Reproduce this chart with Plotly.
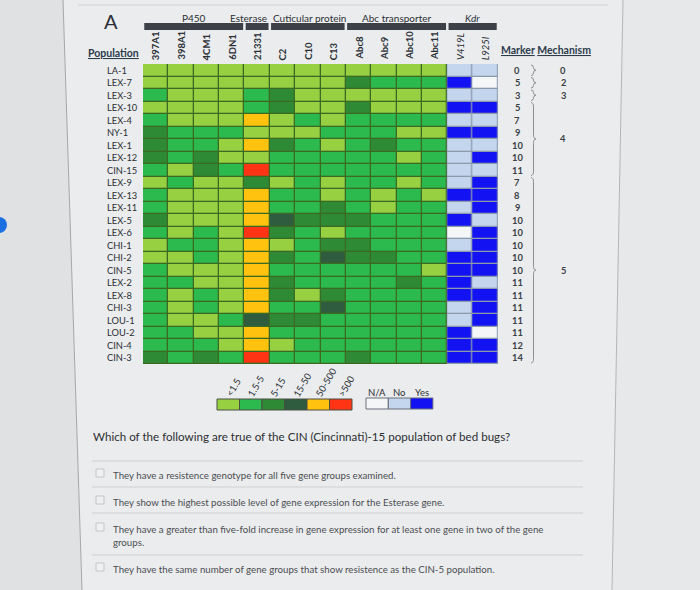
import plotly.graph_objects as go

W, H = 700, 590
def X(p): return p / W
def Y(p): return 1 - p / H

# ---------------- data ----------------
populations = ["LA-1", "LEX-7", "LEX-3", "LEX-10", "LEX-4", "NY-1", "LEX-1", "LEX-12",
               "CIN-15", "LEX-9", "LEX-13", "LEX-11", "LEX-5", "LEX-6", "CHI-1", "CHI-2",
               "CIN-5", "LEX-2", "LEX-8", "CHI-3", "LOU-1", "LOU-2", "CIN-4", "CIN-3"]
genes = ["397A1", "398A1", "4CM1", "6DN1", "21331", "C2", "C10", "C13",
         "Abc8", "Abc9", "Abc10", "Abc11"]
kdr_genes = ["V419L", "L925I"]
group_names = ["P450", "Esterase", "Cuticular protein", "Abc transporter", "Kdr"]
group_first = [0, 4, 5, 8, 12]
group_last = [3, 4, 7, 11, 13]

# fold-change class: 1 <1.5, 2 1.5-5, 3 5-15, 4 15-50, 5 50-500, 6 >500
expression = [
    [1, 1, 1, 1, 1, 1, 1, 1, 1, 1, 1, 1],
    [1, 1, 1, 1, 1, 1, 1, 1, 3, 2, 2, 2],
    [2, 1, 1, 1, 2, 3, 1, 1, 1, 1, 1, 1],
    [1, 1, 1, 1, 2, 3, 1, 1, 3, 1, 1, 1],
    [2, 1, 1, 1, 5, 1, 2, 1, 2, 2, 2, 2],
    [3, 2, 2, 2, 1, 1, 1, 2, 2, 2, 1, 1],
    [3, 2, 2, 1, 5, 3, 2, 1, 2, 3, 2, 2],
    [3, 2, 3, 1, 1, 2, 2, 2, 2, 2, 1, 2],
    [2, 1, 3, 2, 6, 2, 2, 2, 2, 2, 2, 2],
    [1, 2, 1, 1, 3, 1, 2, 1, 2, 2, 1, 2],
    [2, 1, 1, 1, 5, 2, 2, 1, 2, 1, 2, 1],
    [2, 1, 1, 1, 5, 2, 2, 3, 2, 1, 2, 2],
    [3, 1, 1, 1, 5, 4, 3, 3, 3, 2, 2, 2],
    [2, 1, 2, 1, 6, 3, 2, 1, 2, 2, 2, 2],
    [1, 2, 2, 1, 5, 1, 2, 3, 3, 2, 2, 2],
    [1, 1, 2, 1, 5, 3, 2, 4, 3, 3, 2, 2],
    [2, 1, 1, 1, 5, 2, 2, 2, 2, 2, 2, 1],
    [2, 2, 1, 1, 5, 3, 2, 2, 2, 2, 3, 2],
    [2, 1, 2, 1, 5, 3, 1, 3, 2, 2, 2, 2],
    [2, 1, 2, 1, 5, 2, 2, 4, 2, 2, 2, 2],
    [2, 1, 1, 2, 4, 3, 3, 2, 2, 2, 2, 2],
    [2, 2, 1, 1, 5, 2, 2, 2, 2, 2, 2, 2],
    [2, 2, 2, 1, 5, 1, 2, 2, 2, 2, 2, 2],
    [3, 2, 3, 2, 6, 2, 2, 2, 3, 2, 2, 2],
]
# kdr mutation: 0 N/A, 1 No, 2 Yes
kdr = [
    [1, 1], [2, 0], [1, 1], [2, 2], [1, 1], [2, 2], [1, 1], [1, 2],
    [1, 1], [1, 2], [2, 2], [1, 2], [2, 1], [0, 2], [1, 2], [2, 2],
    [2, 2], [2, 1], [2, 2], [1, 2], [1, 2], [2, 0], [2, 2], [2, 2],
]
markers = [0, 5, 3, 5, 7, 9, 10, 10, 11, 7, 8, 9, 10, 10, 10, 10, 10, 11, 11, 11, 11, 11, 12, 14]
mechanisms = ["0", "2", "3", "4", "5"]
mechanism_first = [0, 1, 2, 3, 9]
mechanism_last = [0, 1, 2, 8, 23]

fold_bins = ["<1.5", "1.5-5", "5-15", "15-50", "50-500", ">500"]
kdr_states = ["N/A", "No", "Yes"]

question = "Which of the following are true of the CIN (Cincinnati)-15 population of bed bugs?"
options = [
    "They have a resistence genotype for all five gene groups examined.",
    "They show the highest possible level of gene expression for the Esterase gene.",
    "They have a greater than five-fold increase in gene expression for at least one gene in two of the gene<br>groups.",
    "They have the same number of gene groups that show resistence as the CIN-5 population.",
]

# ---------------- style ----------------
expr_colors = ["#97d142", "#2cb94d", "#2e8a35", "#2f5c3f", "#ffc20e", "#ff3414"]
kdr_colors = ["#f4f6f8", "#c3d6ee", "#1212f2"]
FONT = "Lato"
TXT = "#2b2f35"

def discrete_scale(cols):
    n = len(cols)
    sc = []
    for i, c in enumerate(cols):
        sc.append([i / n, c])
        sc.append([(i + 1) / n, c])
    return sc

GL, GR, GT, GB = 143, 498, 64, 364

fig = go.Figure()
fig.add_trace(go.Heatmap(
    z=expression, x=list(range(len(genes))), y=list(range(len(populations))),
    colorscale=discrete_scale(expr_colors), zmin=0.5, zmax=6.5, showscale=False,
    xgap=1.3, ygap=1.3, hoverinfo="skip"))
fig.add_trace(go.Heatmap(
    z=kdr, x=[len(genes) + i for i in range(len(kdr_genes))], y=list(range(len(populations))),
    colorscale=discrete_scale(kdr_colors), zmin=-0.5, zmax=2.5, showscale=False,
    xgap=1.3, ygap=1.3, hoverinfo="skip"))

ncol = len(genes) + len(kdr_genes)
nrow = len(populations)

shapes = []
annotations = []

# background regions (photo framing)
shapes.append(dict(type="path", xref="paper", yref="paper", layer="below",
                   path=f"M {X(-5)},{Y(-5)} L {X(63)},{Y(-5)} L {X(82)},{Y(595)} L {X(-5)},{Y(595)} Z",
                   fillcolor="#dfe1e2", line=dict(width=0)))
shapes.append(dict(type="path", xref="paper", yref="paper", layer="below",
                   path=f"M {X(623)},{Y(-5)} L {X(705)},{Y(-5)} L {X(705)},{Y(595)} L {X(612)},{Y(595)} Z",
                   fillcolor="#e6e8e9", line=dict(width=0)))
shapes.append(dict(type="line", xref="paper", yref="paper", x0=X(63), y0=Y(0), x1=X(82), y1=Y(590),
                   line=dict(color="#a5a8ab", width=1)))
shapes.append(dict(type="line", xref="paper", yref="paper", x0=X(623), y0=Y(0), x1=X(612), y1=Y(590),
                   line=dict(color="#b3b6b8", width=1)))
shapes.append(dict(type="line", xref="paper", yref="paper", x0=X(78), y0=Y(5), x1=X(608), y1=Y(5),
                   line=dict(color="#d0d2d4", width=1)))
shapes.append(dict(type="circle", xref="paper", yref="paper", x0=X(-9), x1=X(7), y0=Y(217), y1=Y(233),
                   fillcolor="#1c6fe3", line=dict(width=0)))

# grid line backing
shapes.append(dict(type="rect", xref="x", yref="y", layer="below",
                   x0=-0.5, x1=len(genes) - 0.5, y0=-0.5, y1=nrow - 0.5,
                   fillcolor="#3b6a22", line=dict(color="#3b6a22", width=1)))
shapes.append(dict(type="rect", xref="x", yref="y", layer="below",
                   x0=len(genes) - 0.5, x1=ncol - 0.5, y0=-0.5, y1=nrow - 0.5,
                   fillcolor="#8d9aac", line=dict(color="#8d9aac", width=1)))

# group header bars and names
for name, a, b in zip(group_names, group_first, group_last):
    shapes.append(dict(type="rect", xref="x", yref="paper", x0=a - 0.5 + 0.05, x1=b + 0.5 - 0.05,
                       y0=Y(30), y1=Y(23), fillcolor="#3d4147", line=dict(width=0)))
    if name == "Esterase":
        xa, xx = "right", b + 0.45
    elif name == "Cuticular protein":
        xa, xx = "left", a - 0.45
    else:
        xa, xx = "center", (a + b) / 2
    annotations.append(dict(xref="x", yref="paper", x=xx, y=Y(18), yanchor="middle", xanchor=xa,
                            text=(f"<i>{name}</i>" if name == "Kdr" else name), showarrow=False,
                            font=dict(family=FONT, size=10, color=TXT)))

# column labels
for i, g in enumerate(genes + kdr_genes):
    t = f"<i>{g}</i>" if g in kdr_genes else f"<b>{g}</b>"
    annotations.append(dict(xref="x", yref="paper", x=i, y=Y(62), yanchor="bottom", xanchor="center",
                            text=t, textangle=-90, showarrow=False,
                            font=dict(family=FONT, size=9.5, color=TXT)))

# title letter and headers
annotations.append(dict(xref="paper", yref="paper", x=X(102), y=Y(21), xanchor="left", yanchor="middle",
                        text="A", showarrow=False, font=dict(family=FONT, size=20, color=TXT)))
annotations.append(dict(xref="paper", yref="paper", x=X(86), y=Y(53), xanchor="left", yanchor="middle",
                        text="<b><u>Population</u></b>", showarrow=False,
                        font=dict(family=FONT, size=10.5, color="#2c3a4c")))
annotations.append(dict(xref="paper", yref="paper", x=X(499), y=Y(50), xanchor="left", yanchor="middle",
                        text="<b><u>Marker</u> <u>Mechanism</u></b>", showarrow=False,
                        font=dict(family=FONT, size=10.5, color="#2c3a4c")))

# row labels and marker values
for r, p in enumerate(populations):
    annotations.append(dict(xref="paper", yref="y", x=X(105), y=r, xanchor="left", yanchor="middle",
                            text=p, showarrow=False, font=dict(family=FONT, size=9.3, color=TXT)))
    annotations.append(dict(xref="paper", yref="y", x=X(517), y=r, xanchor="center", yanchor="middle",
                            text=f"<b>{markers[r]}</b>", showarrow=False,
                            font=dict(family=FONT, size=9.3, color="#3a3f46")))

# mechanism braces and values
def brace_path(x0, w, yt, yb):
    xm, xt = x0 + w / 2, x0 + w
    ym = (yt + yb) / 2
    r = min(0.35, (yb - yt) / 4)
    return (f"M {X(x0)},{yt} Q {X(xm)},{yt} {X(xm)},{yt + r} L {X(xm)},{ym - r} "
            f"Q {X(xm)},{ym} {X(xt)},{ym} Q {X(xm)},{ym} {X(xm)},{ym + r} "
            f"L {X(xm)},{yb - r} Q {X(xm)},{yb} {X(x0)},{yb}")

for m, a, b in zip(mechanisms, mechanism_first, mechanism_last):
    shapes.append(dict(type="path", xref="paper", yref="y",
                       path=brace_path(531, 5, a - 0.42, b + 0.42),
                       line=dict(color="#8c8f93", width=1)))
    annotations.append(dict(xref="paper", yref="y", x=X(563), y=(a + b) / 2, xanchor="center",
                            yanchor="middle", text=f"<b>{m}</b>", showarrow=False,
                            font=dict(family=FONT, size=9.3, color="#3a3f46")))

# legend: fold change
for i, (lab, c) in enumerate(zip(fold_bins, expr_colors)):
    x0 = 217 + i * 22.5
    shapes.append(dict(type="rect", xref="paper", yref="paper", x0=X(x0), x1=X(x0 + 22.5),
                       y0=Y(410), y1=Y(399), fillcolor=c, line=dict(color="#4a4f45", width=1)))
    annotations.append(dict(xref="paper", yref="paper", x=X(x0 + 4), y=Y(401), xanchor="left",
                            yanchor="bottom", text=lab, textangle=-60, showarrow=False,
                            font=dict(family=FONT, size=9.5, color=TXT)))
# legend: kdr
for i, (lab, c) in enumerate(zip(kdr_states, kdr_colors)):
    x0 = 366 + i * 22.3
    shapes.append(dict(type="rect", xref="paper", yref="paper", x0=X(x0), x1=X(x0 + 22.3),
                       y0=Y(409), y1=Y(398), fillcolor=c, line=dict(color="#6a6f78", width=1)))
    annotations.append(dict(xref="paper", yref="paper", x=X(x0 + 11), y=Y(392), xanchor="center",
                            yanchor="middle", text=lab, showarrow=False,
                            font=dict(family=FONT, size=9.5, color=TXT)))

# question block
annotations.append(dict(xref="paper", yref="paper", x=X(91), y=Y(436), xanchor="left", yanchor="middle",
                        text=question, showarrow=False, font=dict(family=FONT, size=11.6, color="#2d2f33")))
for yy in [461, 487, 513, 555]:
    shapes.append(dict(type="line", xref="paper", yref="paper", x0=X(92), x1=X(583), y0=Y(yy), y1=Y(yy),
                       line=dict(color="#cdd0d2", width=1)))
opt_y = [473, 500, 527, 567]
for t, yy in zip(options, opt_y):
    shapes.append(dict(type="rect", xref="paper", yref="paper", x0=X(96), x1=X(104),
                       y0=Y(yy + 4), y1=Y(yy - 4), fillcolor="#eef0f1",
                       line=dict(color="#c2c5c8", width=1)))
    annotations.append(dict(xref="paper", yref="paper", x=X(111), y=Y(yy - 6), xanchor="left",
                            yanchor="top", align="left", text=t, showarrow=False,
                            font=dict(family=FONT, size=9.7, color="#4a4d52")))

fig.update_layout(
    width=W, height=H, autosize=False,
    margin=dict(l=0, r=0, t=0, b=0, pad=0),
    paper_bgcolor="#eaeced", plot_bgcolor="rgba(0,0,0,0)",
    xaxis=dict(domain=[X(GL), X(GR)], range=[-0.5, ncol - 0.5], visible=False, fixedrange=True),
    yaxis=dict(domain=[Y(GB), Y(GT)], range=[nrow - 0.5, -0.5], visible=False, fixedrange=True),
    shapes=shapes, annotations=annotations, showlegend=False,
)

fig.write_html("out.html", config={"displayModeBar": False, "staticPlot": True},
               post_script="document.body.style.margin='0px';document.body.style.overflow='hidden';")
